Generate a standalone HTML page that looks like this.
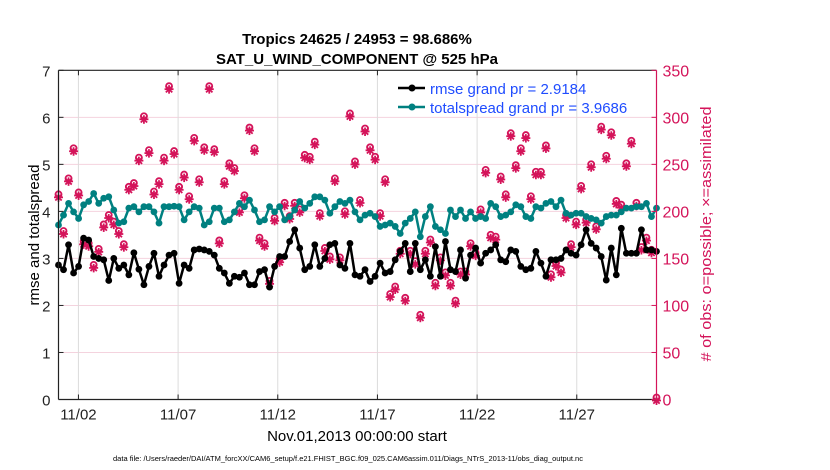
<!DOCTYPE html>
<html><head><meta charset="utf-8"><style>
body{margin:0;background:#fff;}
svg{display:block;font-family:"Liberation Sans",sans-serif;}
</style></head><body>
<svg id="chart" width="830" height="470" viewBox="0 0 830 470" xmlns="http://www.w3.org/2000/svg">
<text x="357" y="64" text-anchor="middle" font-size="15" font-weight="bold" dy="-20">Tropics 24625 / 24953 = 98.686%</text>
<text x="357" y="64" text-anchor="middle" font-size="15" font-weight="bold">SAT_U_WIND_COMPONENT @ 525 hPa</text>
<g id="grid"></g>
<g id="marks"></g>
<g id="axes"></g>
<text transform="translate(39,235) rotate(-90)" text-anchor="middle" font-size="15">rmse and totalspread</text>
<text transform="translate(711,234) rotate(-90)" text-anchor="middle" font-size="15" textLength="255" lengthAdjust="spacingAndGlyphs" fill="#d4145a"># of obs: o=possible; ×=assimilated</text>
<text x="357" y="441" text-anchor="middle" font-size="15">Nov.01,2013 00:00:00 start</text>
<text x="348" y="461" text-anchor="middle" font-size="7.5">data file: /Users/raeder/DAI/ATM_forcXX/CAM6_setup/f.e21.FHIST_BGC.f09_025.CAM6assim.011/Diags_NTrS_2013-11/obs_diag_output.nc</text>
<g>
<line x1="398" y1="88" x2="425" y2="88" stroke="#000" stroke-width="2.5"/><circle cx="412" cy="88" r="3.5" fill="#000"/>
<text x="430" y="94" font-size="15" fill="#1f4cff">rmse grand pr = 2.9184</text>
<line x1="398" y1="107" x2="425" y2="107" stroke="#008080" stroke-width="2.5"/><circle cx="412" cy="107" r="3.5" fill="#008080"/>
<text x="430" y="113" font-size="15" fill="#1f4cff">totalspread grand pr = 3.9686</text>
</g>
</svg>
<script>
const rmse=[2.86,2.76,3.29,2.69,2.83,3.43,3.39,3.04,3.00,2.97,2.53,3.00,2.79,2.86,2.65,3.12,2.77,2.44,2.83,3.11,2.62,2.86,3.07,3.11,2.47,2.86,2.79,3.18,3.20,3.18,3.15,3.07,2.79,2.69,2.47,2.62,2.60,2.69,2.44,2.44,2.72,2.76,2.39,2.83,3.04,3.04,3.36,3.61,3.22,2.76,2.83,3.29,2.83,3.00,3.29,3.32,2.86,2.79,3.32,2.65,
2.62,2.76,2.51,2.62,2.90,2.69,2.72,2.97,3.15,3.32,2.72,3.32,2.76,2.97,2.62,3.25,2.62,3.36,2.76,2.72,3.18,2.58,3.07,3.22,2.90,3.11,3.18,3.29,2.97,2.93,3.18,3.15,2.83,2.76,2.79,3.15,2.90,2.62,2.97,2.97,3.00,3.18,3.11,3.07,3.29,3.61,3.32,3.22,3.04,2.54,3.22,2.65,3.64,3.11,3.11,3.11,3.61,3.18,3.18,3.15];
const spread=[3.71,3.92,4.17,3.99,3.85,4.14,4.21,4.38,4.17,4.28,4.31,4.03,3.75,3.78,4.07,4.10,3.99,4.10,4.10,3.99,3.75,4.10,4.10,4.11,4.10,3.82,3.99,4.10,4.07,3.71,3.78,4.07,4.07,3.78,3.82,3.99,4.17,4.10,4.24,4.03,3.78,3.82,4.10,3.99,4.10,3.82,3.89,4.03,4.21,4.07,4.17,4.31,4.31,4.24,3.96,4.10,4.21,4.17,4.24,3.99,
3.82,3.92,3.96,3.89,3.68,3.71,3.75,3.68,3.53,3.75,3.85,3.99,3.46,3.89,4.10,3.68,3.61,3.53,4.03,3.89,4.03,3.85,3.99,3.85,3.89,3.85,4.17,4.10,3.89,3.92,3.99,4.14,4.10,3.89,3.85,4.10,4.07,4.17,4.21,4.10,4.24,3.96,3.92,3.96,3.96,3.89,3.85,3.82,3.75,3.89,3.92,3.92,3.99,4.07,4.07,4.10,4.10,4.17,3.89,4.07];
const obs=[216,177,233,265,218,166,164,141,158,184,194,187,177,163,224,228,255,299,263,219,230,255,331,262,224,237,214,276,232,266,331,264,167,230,249,244,200,215,287,265,170,164,124,191,147,207,193,207,200,258,256,272,196,159,150,233,149,198,302,251,
210,286,266,256,196,232,110,118,156,106,156,145,88,156,168,122,149,133,122,103,134,134,164,154,200,242,173,171,235,216,281,247,265,279,214,240,240,268,131,143,136,194,163,187,225,189,248,182,288,257,282,209,205,249,273,207,160,170,157,0];
const xTickLabels=["11/02","11/07","11/12","11/17","11/22","11/27"];
const xTickDays=[2,7,12,17,22,27];
const yLeftTicks=[0,1,2,3,4,5,6,7];
const yRightTicks=[0,50,100,150,200,250,300,350];

const X0=58.5,X1=656.5,Y0=399.5,Y1=70.3,D0=1,D1=31;
const NS="http://www.w3.org/2000/svg";
function xs(d){return X0+(d-D0)/(D1-D0)*(X1-X0);}
function yl(v){return Y0-(v/7)*(Y0-Y1);}
function yr(v){return Y0-(v/350)*(Y0-Y1);}
function dayOf(i,n){return D0+i*(D1-D0)/(n-1);}
function mk(tag,attrs,parent){const e=document.createElementNS(NS,tag);for(const k in attrs)e.setAttribute(k,attrs[k]);parent.appendChild(e);return e;}
const grid=document.getElementById('grid'),marks=document.getElementById('marks'),axes=document.getElementById('axes');
yRightTicks.forEach(v=>{if(v>0&&v<350){const l=mk('line',{x1:X0,x2:X1,y1:yr(v),y2:yr(v),stroke:'#f4d3de','stroke-width':1},grid);

}});
xTickDays.forEach(d=>{const l=mk('line',{x1:xs(d),x2:xs(d),y1:Y0,y2:Y1,stroke:'#dcdcdc','stroke-width':1},grid);

});
obs.forEach((v,i)=>{const cx=xs(dayOf(i,obs.length)),cy=yr(v);const g=mk('g',{stroke:'#d4145a','stroke-width':1.8,fill:'none'},marks);


mk('circle',{cx:cx,cy:cy-2,r:3},g);
mk('line',{x1:cx-4.5,x2:cx+4.5,y1:cy+1,y2:cy+1},g);mk('line',{x1:cx,x2:cx,y1:cy-3,y2:cy+5.5},g);
mk('line',{x1:cx-3.2,x2:cx+3.2,y1:cy-2,y2:cy+4.2},g);mk('line',{x1:cx+3.2,x2:cx-3.2,y1:cy-2,y2:cy+4.2},g);});
function series(arr,color,name){const pts=arr.map((v,i)=>xs(dayOf(i,arr.length)).toFixed(1)+','+yl(v).toFixed(1)).join(' ');
const p=mk('polyline',{points:pts,fill:'none',stroke:color,'stroke-width':2.5,'stroke-linejoin':'round'},marks);


arr.forEach((v,i)=>{const c=mk('circle',{cx:xs(dayOf(i,arr.length)),cy:yl(v),r:3.4,fill:color},marks);

});}
series(spread,'#008080','totalspread');
series(rmse,'#000000','rmse');
mk('line',{x1:X0,x2:X1,y1:Y1,y2:Y1,stroke:'#222','stroke-width':1.2},axes);
mk('line',{x1:X0,x2:X1,y1:Y0,y2:Y0,stroke:'#222','stroke-width':1.2},axes);
mk('line',{x1:X0,x2:X0,y1:Y0,y2:Y1,stroke:'#222','stroke-width':1.2},axes);
mk('line',{x1:X1,x2:X1,y1:Y0,y2:Y1,stroke:'#d4145a','stroke-width':1.2},axes);
yLeftTicks.forEach(v=>{mk('line',{x1:X0,x2:X0+5,y1:yl(v),y2:yl(v),stroke:'#222'},axes);
const t=mk('text',{x:X0-8,y:yl(v)+6,'text-anchor':'end','font-size':15,fill:'#222'},axes);t.textContent=v;

});
yRightTicks.forEach(v=>{mk('line',{x1:X1-5,x2:X1,y1:yr(v),y2:yr(v),stroke:'#d4145a'},axes);
const t=mk('text',{x:X1+6,y:yr(v)+6,'font-size':16,fill:'#d4145a'},axes);t.textContent=v;

});
xTickDays.forEach((d,i)=>{mk('line',{x1:xs(d),x2:xs(d),y1:Y0,y2:Y0-5,stroke:'#222'},axes);mk('line',{x1:xs(d),x2:xs(d),y1:Y1,y2:Y1+5,stroke:'#222'},axes);
const t=mk('text',{x:xs(d),y:Y0+20,'text-anchor':'middle','font-size':15,fill:'#222'},axes);t.textContent=xTickLabels[i];

});
</script>
</body></html>
